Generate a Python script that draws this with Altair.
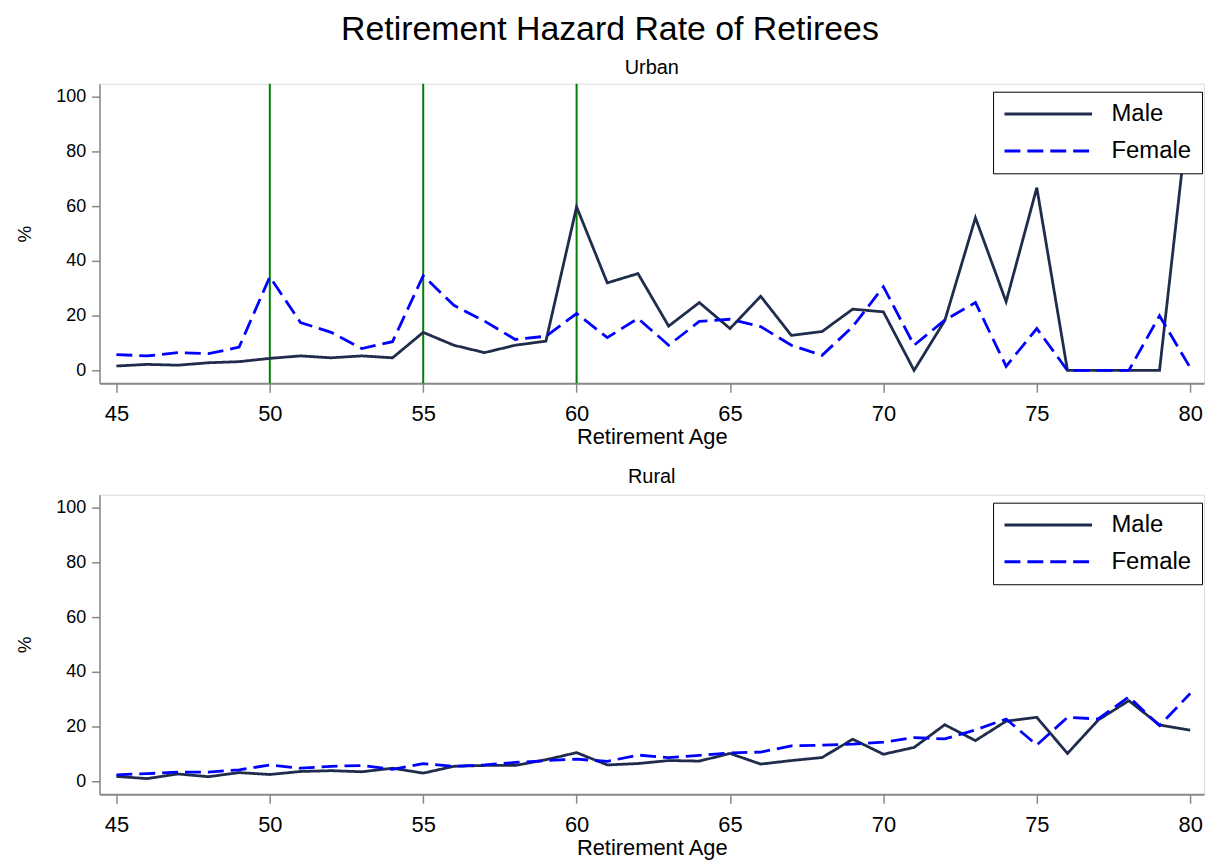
import altair as alt
import pandas as pd

ages = [45, 46, 47, 48, 49, 50, 51, 52, 53, 54, 55, 56, 57, 58, 59, 60, 61, 62,
        63, 64, 65, 66, 67, 68, 69, 70, 71, 72, 73, 74, 75, 76, 77, 78, 79, 80]

urban_male = [1.6, 2.2, 1.9, 2.8, 3.2, 4.4, 5.3, 4.6, 5.3, 4.6, 13.9, 9.2, 6.5, 9.2,
              10.7, 59.8, 32.0, 35.4, 16.2, 24.8, 15.3, 27.1, 12.8, 14.2, 22.4, 21.4,
              0.0, 18.2, 55.8, 25.1, 66.8, 0.0, 0.0, 0.0, 0.0, 100.0]
urban_female = [5.8, 5.3, 6.5, 6.1, 8.5, 34.2, 17.5, 13.9, 8.0, 10.5, 34.6, 23.8, 18.0,
                11.3, 12.5, 20.8, 12.0, 19.0, 9.2, 17.9, 18.7, 16.0, 9.2, 5.5, 16.0,
                30.6, 9.2, 18.4, 24.8, 1.5, 15.3, 0.0, 0.0, 0.0, 20.0, 1.0]
rural_male = [1.8, 1.0, 2.7, 1.7, 3.2, 2.5, 3.6, 3.9, 3.5, 4.8, 3.0, 5.5, 5.8, 5.8,
              7.9, 10.5, 6.0, 6.5, 7.6, 7.4, 10.2, 6.3, 7.6, 8.7, 15.4, 9.9, 12.4,
              20.7, 14.9, 22.0, 23.4, 10.2, 22.4, 29.5, 20.6, 18.7]
rural_female = [2.4, 2.8, 3.4, 3.4, 4.2, 6.0, 4.8, 5.5, 5.8, 4.4, 6.5, 5.5, 6.0, 6.9,
                7.6, 8.1, 7.3, 9.6, 8.7, 9.5, 10.4, 10.7, 13.0, 13.2, 13.6, 14.3, 16.0,
                15.5, 18.8, 22.8, 13.3, 23.4, 22.8, 30.9, 20.4, 32.1]

policy_ages = [50, 55, 60]
x_ticks = [45, 50, 55, 60, 65, 70, 75, 80]
y_ticks = [0, 20, 40, 60, 80, 100]
series = ["Male", "Female"]
colors = ["#1f2c4c", "#0000ff"]
dashes = [[1, 0], [16, 7]]

FONT = "Liberation Sans"


def long_df(male, female):
    rows = []
    for a, m, f in zip(ages, male, female):
        rows.append({"age": a, "sex": "Male", "rate": m})
        rows.append({"age": a, "sex": "Female", "rate": f})
    return pd.DataFrame(rows)


legend = alt.Legend(
    orient="none", legendX=898, legendY=8, title=None,
    symbolType="M-1,0H7", symbolSize=484, symbolStrokeWidth=3,
    labelFontSize=24, labelFont=FONT, labelColor="black", labelOffset=84,
    rowPadding=12, padding=10, strokeColor="black", fillColor="white",
)

x_enc = alt.X(
    "age:Q",
    scale=alt.Scale(domain=[44.45, 80.45], nice=False, zero=False),
    axis=alt.Axis(values=x_ticks, tickSize=9, labelFontSize=22, labelPadding=11,
                  title="Retirement Age", titleFontSize=22, titlePadding=3,
                  titleFontWeight="normal", titleFont=FONT, labelFont=FONT,
                  grid=False, domainWidth=2, tickWidth=1.5, labelFlush=False),
)
y_enc = alt.Y(
    "rate:Q",
    scale=alt.Scale(domain=[-4.7, 104.8], nice=False, zero=False),
    axis=alt.Axis(values=y_ticks, tickSize=8, labelFontSize=18, labelPadding=6,
                  title="%", titleFontSize=19, titlePadding=21,
                  titleFontWeight="normal", titleFont=FONT, labelFont=FONT,
                  grid=False, domainWidth=1.5, tickWidth=1.5),
)


def lines(df):
    return alt.Chart(df).mark_line(strokeWidth=2.8).encode(
        x=x_enc,
        y=y_enc,
        color=alt.Color("sex:N", scale=alt.Scale(domain=series, range=colors),
                        sort=series, legend=legend),
        strokeDash=alt.StrokeDash("sex:N", scale=alt.Scale(domain=series, range=dashes),
                                  sort=series, legend=legend),
        order="age:Q",
    )


rules = alt.Chart(pd.DataFrame({"age": policy_ages})).mark_rule(
    color="#008000", strokeWidth=2
).encode(x="age:Q")

urban = alt.layer(rules, lines(long_df(urban_male, urban_female))).properties(
    width=1110, height=301,
    title=alt.TitleParams("Urban", fontSize=20, font=FONT, fontWeight="normal",
                          anchor="middle", offset=5, color="black"),
)
rural = lines(long_df(rural_male, rural_female)).properties(
    width=1110, height=301,
    title=alt.TitleParams("Rural", fontSize=20, font=FONT, fontWeight="normal",
                          anchor="middle", offset=8, color="black"),
)

chart = alt.vconcat(urban, rural, spacing=17).resolve_scale(
    color="independent", strokeDash="independent"
).properties(
    title=alt.TitleParams("Retirement Hazard Rate of Retirees", fontSize=34, font=FONT,
                          fontWeight="normal", anchor="middle", frame="bounds",
                          offset=10, color="black"),
    padding={"left": 7, "top": 3, "right": 0, "bottom": 0},
).configure_view(
    stroke="black", strokeWidth=1
).configure_axis(
    labelFont=FONT, titleFont=FONT, titleFontWeight="normal",
    labelColor="black", titleColor="black", tickColor="black", domainColor="black",
).configure(background="white")

chart.save("out.html", embed_options={"renderer": "svg", "actions": False})
